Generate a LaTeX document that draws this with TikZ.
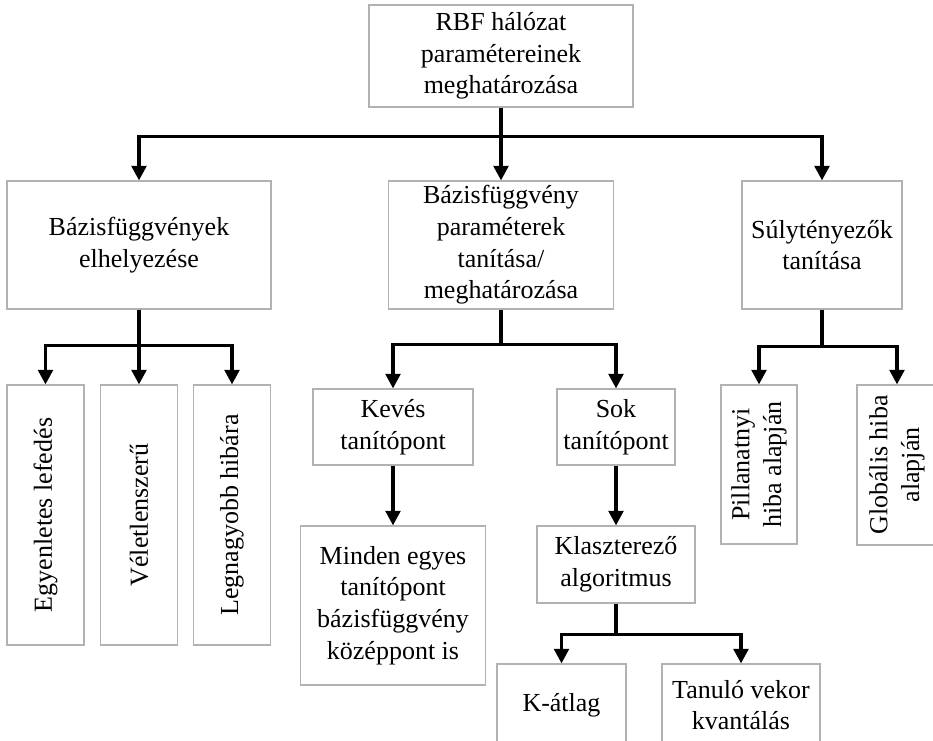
\documentclass[tikz,border=0pt]{standalone}
\usepackage{fontspec}
\setmainfont{Liberation Serif}
\usetikzlibrary{positioning}
\usetikzlibrary{shapes,arrows.meta}
\tikzstyle{block} = [rectangle, draw=gray!60, line width=0.8pt, fill=white,
    align=center, inner sep=1pt, font=\fontsize{19.5}{23.8}\selectfont]
\tikzstyle{vblock} = [block, rotate=90]
\tikzstyle{line} = [draw, line width=2.6pt, -{Triangle[length=11pt,width=11pt]}]

\begin{document}
\begin{tikzpicture}[x=0.75pt, y=-0.75pt]
    \useasboundingbox (0,0) rectangle (933,741);
    \clip (0,0) rectangle (933,741);
    % Place nodes
    \node [block, minimum width=198pt, minimum height=76.5pt] (rbf) at (501,56) {RBF hálózat\\paramétereinek\\meghatározása};
    \node [block, minimum width=198pt, minimum height=96pt] (elh) at (139,245) {Bázisfüggvények\\elhelyezése};
    \node [block, minimum width=168.75pt, minimum height=96pt] (bpar) at (501,245) {Bázisfüggvény\\paraméterek\\tanítása/\\meghatározása};
    \node [block, minimum width=120pt, minimum height=96pt] (suly) at (822,245) {Súlytényezők\\tanítása};

    \node [vblock, minimum width=195pt, minimum height=57.75pt] (egy) at (45.5,515) {Egyenletes lefedés};
    \node [vblock, minimum width=195pt, minimum height=57.75pt] (vel) at (139,515) {Véletlenszerű};
    \node [vblock, minimum width=195pt, minimum height=57.75pt] (leg) at (232,515) {Legnagyobb hibára};

    \node [block, minimum width=120pt, minimum height=57pt] (keves) at (393,427) {Kevés\\tanítópont};
    \node [block, minimum width=88.5pt, minimum height=57pt] (sok) at (616,427) {Sok\\tanítópont};
    \node [block, minimum width=138.75pt, minimum height=119.25pt] (minden) at (393,605.5) {Minden egyes\\tanítópont\\bázisfüggvény\\középpont is};
    \node [block, minimum width=118.5pt, minimum height=57.75pt] (klaszt) at (616,564.5) {Klaszterező\\algoritmus};
    \node [block, minimum width=96.75pt, minimum height=61.5pt] (katl) at (561.5,705) {K-átlag};
    \node [block, minimum width=118.5pt, minimum height=61.5pt] (tanulo) at (741,705) {Tanuló vekor\\kvantálás};

    \node [vblock, minimum width=119.25pt, minimum height=57pt] (pill) at (759,464.5) {Pillanatnyi\\hiba alapján};
    \node [vblock, minimum width=120pt, minimum height=60pt] (glob) at (897,465) {Globális hiba\\alapján};

    % Draw edges
    \path [line] (rbf.south) -- ++(0,29) -| (elh.north);
    \path [line] (rbf.south) -- (bpar.north);
    \path [line] (rbf.south) -- ++(0,29) -| (suly.north);
    \path [line] (elh.south) -- ++(0,36) -| (egy.east);
    \path [line] (elh.south) -- (vel.east);
    \path [line] (elh.south) -- ++(0,36) -| (leg.east);
    \path [line] (bpar.south) -- ++(0,35) -| (keves.north);
    \path [line] (bpar.south) -- ++(0,35) -| (sok.north);
    \path [line] (keves.south) -- (minden.north);
    \path [line] (sok.south) -- (klaszt.north);
    \path [line] (klaszt.south) -- ++(0,31) -| (katl.north);
    \path [line] (klaszt.south) -- ++(0,31) -| (tanulo.north);
    \path [line] (suly.south) -- ++(0,37) -| (pill.east);
    \path [line] (suly.south) -- ++(0,37) -| (glob.east);
\end{tikzpicture}
\end{document}
